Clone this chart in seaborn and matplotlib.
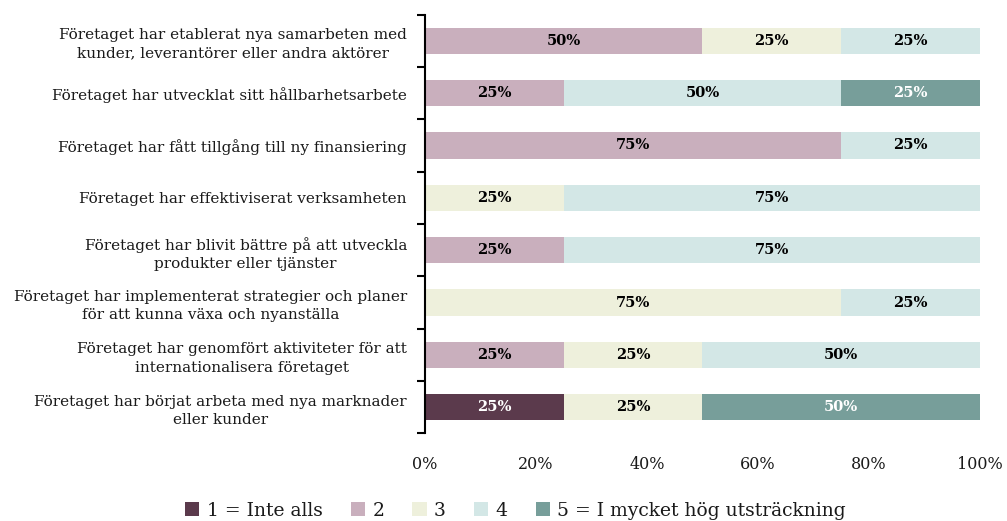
import numpy as np
import pandas as pd
import matplotlib
matplotlib.use("Agg")
import matplotlib.pyplot as plt
import seaborn as sns
from matplotlib.patches import Patch
from matplotlib.ticker import FixedLocator, PercentFormatter

categories = [
    "Företaget har etablerat nya samarbeten med\nkunder, leverantörer eller andra aktörer",
    "Företaget har utvecklat sitt hållbarhetsarbete",
    "Företaget har fått tillgång till ny finansiering",
    "Företaget har effektiviserat verksamheten",
    "Företaget har blivit bättre på att utveckla\nprodukter eller tjänster",
    "Företaget har implementerat strategier och planer\nför att kunna växa och nyanställa",
    "Företaget har genomfört aktiviteter för att\ninternationalisera företaget",
    "Företaget har börjat arbeta med nya marknader\neller kunder",
]
levels = ["1 = Inte alls", "2", "3", "4", "5 = I mycket hög utsträckning"]
level1 = [0, 0, 0, 0, 0, 0, 0, 25]
level2 = [50, 25, 75, 0, 25, 0, 25, 0]
level3 = [25, 0, 0, 25, 0, 75, 25, 25]
level4 = [25, 50, 25, 75, 75, 25, 50, 0]
level5 = [0, 25, 0, 0, 0, 0, 0, 50]
colors = ["#5b3a4c", "#c9afbd", "#eef0dc", "#d3e7e6", "#779e9a"]
text_colors = ["white", "black", "black", "black", "white"]

sns.set_theme(style="white")
plt.rcParams["font.family"] = ["DejaVu Serif"]

values = np.array([level1, level2, level3, level4, level5], dtype=float)
cum = np.cumsum(values, axis=0)

fig, ax = plt.subplots(figsize=(10.07, 5.21), dpi=100)
fig.subplots_adjust(left=0.422, right=0.973, top=0.972, bottom=0.168)

# draw cumulative bars from the widest to the narrowest so they stack
for i in range(len(levels) - 1, -1, -1):
    df = pd.DataFrame({"cat": categories, "val": cum[i]})
    sns.barplot(data=df, x="val", y="cat", orient="h", color=colors[i],
                saturation=1, width=0.5, ax=ax, linewidth=0, order=categories)

# labels
for i in range(len(levels)):
    for j in range(len(categories)):
        v = values[i, j]
        if v > 0:
            left = cum[i, j] - v
            ax.text(left + v / 2, j, f"{int(v)}%", ha="center", va="center",
                    color=text_colors[i], fontsize=10.5, fontweight="bold")

ax.set_xlim(0, 100)
ax.set_ylim(len(categories) - 0.5, -0.5)
ax.xaxis.set_major_locator(FixedLocator([0, 20, 40, 60, 80, 100]))
ax.xaxis.set_major_formatter(PercentFormatter(decimals=0))
ax.set_xlabel("")
ax.set_ylabel("")

for s in ["top", "right", "bottom"]:
    ax.spines[s].set_visible(False)
ax.spines["left"].set_color("black")
ax.spines["left"].set_linewidth(1.5)

ax.tick_params(axis="y", which="major", length=0, labelsize=11, pad=13,
               labelcolor="#1a1a1a")
ax.yaxis.set_minor_locator(FixedLocator(np.arange(-0.5, len(categories), 1.0)))
ax.tick_params(axis="y", which="minor", length=6, width=1.5, color="black", left=True)
ax.tick_params(axis="x", length=0, labelsize=11.5, pad=16, labelcolor="#1a1a1a")
for lab in ax.get_yticklabels():
    lab.set_multialignment("center")
    lab.set_linespacing(1.4)

handles = [Patch(facecolor=c, edgecolor="none") for c in colors]
fig.legend(handles, levels, loc="lower center", bbox_to_anchor=(0.512, -0.03),
           ncol=5, frameon=False, fontsize=13.5, handlelength=0.75, handleheight=0.75,
           handletextpad=0.4, columnspacing=1.5, labelcolor="#1a1a1a")

fig.savefig("out.png", dpi=100)
